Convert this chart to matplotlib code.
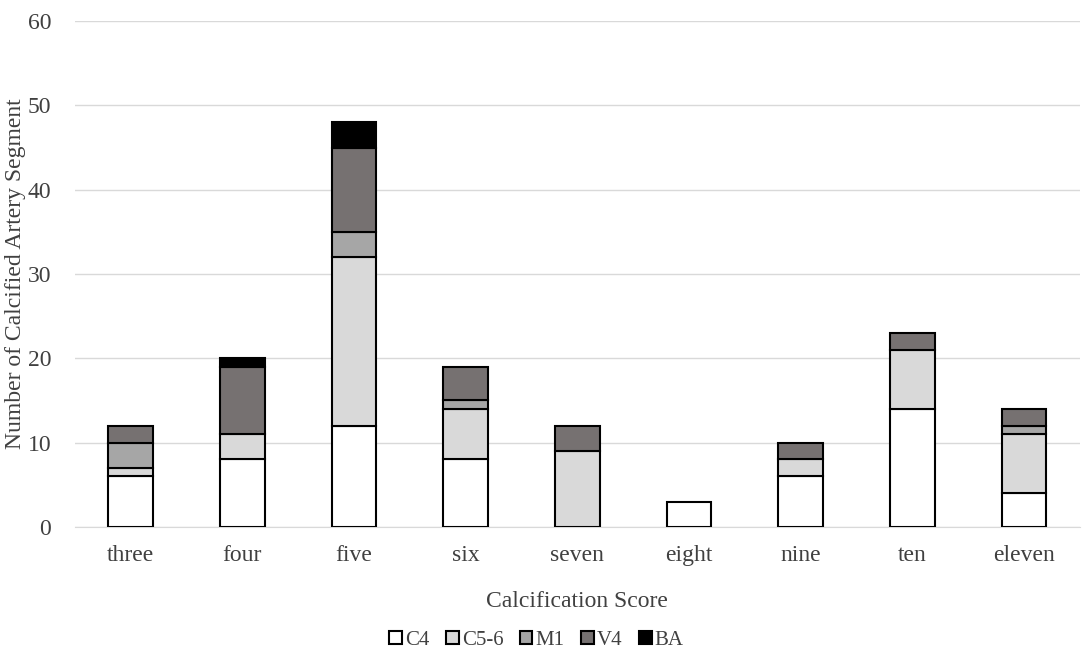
import matplotlib.pyplot as plt
import numpy as np

plt.rcParams['font.family'] = ['Liberation Serif', 'DejaVu Serif']

categories = ["three", "four", "five", "six", "seven", "eight", "nine", "ten", "eleven"]
c4 = [6, 8, 12, 8, 0, 3, 6, 14, 4]
c56 = [1, 3, 20, 6, 9, 0, 2, 7, 7]
m1 = [3, 0, 3, 1, 0, 0, 0, 0, 1]
v4 = [2, 8, 10, 4, 3, 0, 2, 2, 2]
ba = [0, 1, 3, 0, 0, 0, 0, 0, 0]

series = [("C4", c4, "#ffffff"), ("C5-6", c56, "#d9d9d9"), ("M1", m1, "#a6a6a6"),
          ("V4", v4, "#767171"), ("BA", ba, "#000000")]

fig = plt.figure(figsize=(10.84, 6.61), dpi=100)
ax = fig.add_axes([0.069, 0.203, 0.927, 0.765])

x = np.arange(len(categories))
bottom = np.zeros(len(categories))
for name, vals, col in series:
    vals = np.array(vals, dtype=float)
    mask = vals > 0
    ax.bar(x[mask], vals[mask], 0.4, bottom=bottom[mask], color=col,
           edgecolor="black", linewidth=1.5, label=name, zorder=3)
    bottom += vals

ax.set_xlim(-0.5, len(categories) - 0.5)
ax.set_ylim(0, 60)
ax.set_yticks(range(0, 61, 10))
ax.set_xticks(x)
ax.set_xticklabels(categories)
ax.grid(axis="y", color="#d9d9d9", linewidth=1, zorder=0)
for s in ["top", "right", "left"]:
    ax.spines[s].set_visible(False)
ax.spines["bottom"].set_color("#d9d9d9")
ax.tick_params(length=0, labelsize=17, colors="#404040")
ax.tick_params(axis="x", pad=13)
ax.tick_params(axis="y", pad=17)
ax.set_xlabel("Calcification Score", fontsize=17, color="#404040", labelpad=18)
ax.set_ylabel("Number of Calcified Artery Segment", fontsize=17, color="#404040")
ax.yaxis.set_label_coords(-0.049, 0.5)

# legend handles with black edges
handles = [plt.Rectangle((0, 0), 1, 1, facecolor=col, edgecolor="black", linewidth=1.5)
           for _, _, col in series]
fig.legend(handles, [s[0] for s in series], loc="lower center", ncol=5,
           bbox_to_anchor=(0.495, -0.012), frameon=False, fontsize=15,
           handlelength=0.6, handleheight=0.6, handletextpad=0.15, columnspacing=0.8,
           labelcolor="#404040")

fig.savefig("out.png", dpi=100)
